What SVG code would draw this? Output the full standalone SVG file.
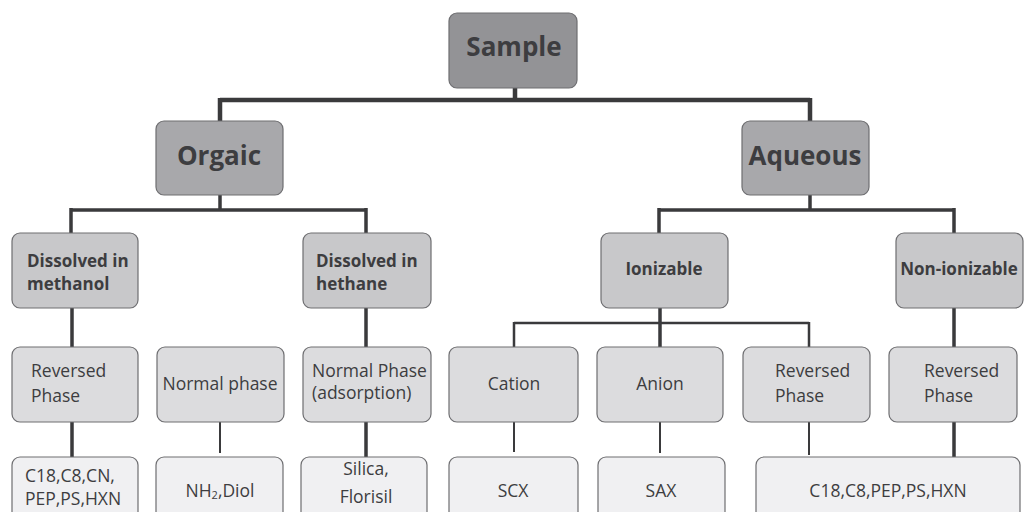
<svg xmlns="http://www.w3.org/2000/svg" width="1024" height="512" viewBox="0 0 1024 512">
<style>
.b{stroke:#6e6e71;stroke-width:1.2}
.l0{fill:#939396}.l1{fill:#a8a8ab}.l2{fill:#c8c8ca}.l3{fill:#dcdcde}.l4{fill:#f0f0f2}
text{font-family:"Open Sans","Noto Sans","Liberation Sans",sans-serif;fill:#3d3d40}
.t0{font-size:26px;font-weight:700}
.t2{font-size:17px;font-weight:700}
.t3{font-size:17.5px}
.c{text-anchor:middle}
.w{fill:none;stroke:#3a3a3c;stroke-linecap:butt}
</style>
<g id="connectors" class="w">
<path d="M515 88V100M220 100H810M220 98V121M810 98V121" stroke-width="4.5"/>
<path d="M220 195V210M71 210H366M71 208V233M366 208V233" stroke-width="3.5"/>
<path d="M810 195V210M659 210H954M659 208V233M954 208V233" stroke-width="3.5"/>
<path d="M72 308V347M72 422V457M366 308V347M366 422V457M660 308V347M954 308V347M954 422V457" stroke-width="3.5"/>
<path d="M514 323H809M514 322V347M809 322V347" stroke-width="2.5"/>
<path d="M220 422V453M514 422V452M660 422V453M809 422V455" stroke-width="2"/>
</g>
<g id="sample"><rect class="b l0" x="449" y="13" width="128" height="75" rx="8"/><text class="t0 c" x="514" y="56">Sample</text></g>
<g id="orgaic"><rect class="b l1" x="156" y="121" width="127" height="74" rx="8"/><text class="t0 c" x="219" y="165">Orgaic</text></g>
<g id="aqueous"><rect class="b l1" x="742" y="121" width="127" height="74" rx="8"/><text class="t0 c" x="805" y="165">Aqueous</text></g>
<g id="methanol"><rect class="b l2" x="12" y="233" width="126" height="75" rx="8"/><text class="t2" x="27" y="267">Dissolved in</text><text class="t2" x="27" y="290">methanol</text></g>
<g id="hethane"><rect class="b l2" x="303" y="233" width="128" height="75" rx="8"/><text class="t2" x="316" y="267">Dissolved in</text><text class="t2" x="316" y="290">hethane</text></g>
<g id="ionizable"><rect class="b l2" x="601" y="233" width="127" height="75" rx="8"/><text class="t2 c" x="664" y="275">Ionizable</text></g>
<g id="nonionizable"><rect class="b l2" x="896" y="233" width="127" height="75" rx="8"/><text class="t2 c" x="959" y="275">Non-ionizable</text></g>
<g id="rp1"><rect class="b l3" x="12" y="347" width="126" height="75" rx="8"/><text class="t3" x="31" y="377">Reversed</text><text class="t3" x="31" y="402">Phase</text></g>
<g id="np"><rect class="b l3" x="157" y="347" width="127" height="75" rx="8"/><text class="t3 c" x="220" y="390">Normal phase</text></g>
<g id="npads"><rect class="b l3" x="303" y="347" width="128" height="75" rx="8"/><text class="t3" x="312" y="377">Normal Phase</text><text class="t3" x="312" y="399">(adsorption)</text></g>
<g id="cation"><rect class="b l3" x="449" y="347" width="129" height="75" rx="8"/><text class="t3 c" x="514" y="390">Cation</text></g>
<g id="anion"><rect class="b l3" x="597" y="347" width="126" height="75" rx="8"/><text class="t3 c" x="660" y="390">Anion</text></g>
<g id="rp2"><rect class="b l3" x="743" y="347" width="127" height="75" rx="8"/><text class="t3" x="775" y="377">Reversed</text><text class="t3" x="775" y="402">Phase</text></g>
<g id="rp3"><rect class="b l3" x="889" y="347" width="128" height="75" rx="8"/><text class="t3" x="924" y="377">Reversed</text><text class="t3" x="924" y="402">Phase</text></g>
<g id="c18a"><rect class="b l4" x="12" y="457" width="126" height="70" rx="8"/><text class="t3" x="25" y="482">C18,C8,CN,</text><text class="t3" x="25" y="505">PEP,PS,HXN</text></g>
<g id="nh2"><rect class="b l4" x="156" y="457" width="127" height="70" rx="8"/><text class="t3 c" x="220" y="497">NH<tspan font-size="11" dy="2">2</tspan><tspan dy="-2">,Diol</tspan></text></g>
<g id="silica"><rect class="b l4" x="301" y="457" width="126" height="70" rx="8"/><text class="t3 c" x="366" y="475">Silica,</text><text class="t3 c" x="366" y="503">Florisil</text></g>
<g id="scx"><rect class="b l4" x="449" y="457" width="129" height="70" rx="8"/><text class="t3 c" x="513" y="497">SCX</text></g>
<g id="sax"><rect class="b l4" x="598" y="457" width="127" height="70" rx="8"/><text class="t3 c" x="661" y="497">SAX</text></g>
<g id="c18b"><rect class="b l4" x="756" y="457" width="264" height="70" rx="8"/><text class="t3 c" x="888" y="497">C18,C8,PEP,PS,HXN</text></g>
</svg>
